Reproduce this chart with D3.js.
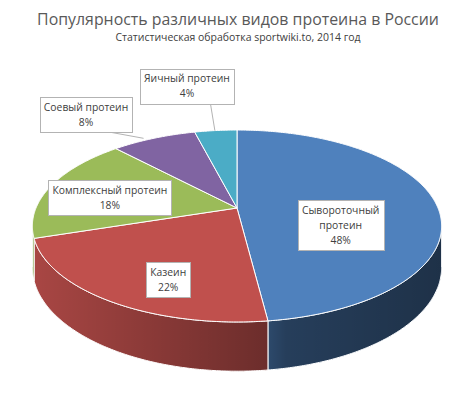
<!DOCTYPE html>
<html><head><meta charset="utf-8">
<script src="https://cdn.jsdelivr.net/npm/d3@7"></script>
<style>html,body{margin:0;padding:0;background:#fff;} svg{display:block}</style>
</head><body>
<svg id="chart" width="474" height="395"></svg>
<script>
// ---------- data ----------
const titleText = "Популярность различных видов протеина в России";
const subtitleText = "Статистическая обработка sportwiki.to, 2014 год";
const categories = ["Сывороточный протеин", "Казеин", "Комплексный протеин", "Соевый протеин", "Яичный протеин"];
const values = [48, 22, 18, 8, 4];

// ---------- styles / layout ----------
const colors = ["#4f81bd", "#c0504d", "#9bbb59", "#8064a2", "#4bacc6"];
const FONT = "'Open Sans', 'Noto Sans', 'DejaVu Sans', sans-serif";
const geo = {cx: 237, cy: 208, rx: 201, ry: 92.6, k: 0.1875, depth: 40};
// label placement: radius in disk units, angle offset (deg) from slice middle
const labelLayout = [
  {r: 0.52, dAng: 0, mid: true, wrap: true},
  {r: 0.58, dAng: 0, mid: true, wrap: false},
  {r: 0.656, dAng: -4.4, mid: false, wrap: false},
  {r: 1.552, dAng: -7.85, mid: false, wrap: false, leader: {dAng: -2.9, r: 1.03}},
  {r: 1.78, dAng: -3.5, mid: false, wrap: false, leader: {dAng: -0.3, r: 1.0}}
];

const svg = d3.select("#chart");
const W = 474, H = 395;
svg.append("rect").attr("width", W).attr("height", H).attr("fill", "#fff");

function fitSize(text, base, target) {
  const t = svg.append("text").attr("font-family", FONT).attr("font-size", base).text(text);
  const w = t.node().getComputedTextLength(); t.remove();
  return base * target / w;
}

// ---------- projection ----------
const xS = d3.scaleLinear().domain([-1, 1]).range([geo.cx - geo.rx, geo.cx + geo.rx]);
const yS = d3.scaleLinear().domain([-1, 1]).range([geo.cy - geo.ry, geo.cy + geo.ry]);
function proj(theta, r, t) {
  const u = r * Math.sin(theta), v = -r * Math.cos(theta);
  const w = 1 - geo.k * v;
  return [xS(u / w), yS((v + t * geo.depth / geo.ry) / w)];
}
function arcPts(a0, a1, r, t) {
  const n = Math.max(2, Math.ceil(Math.abs(a1 - a0) / 0.01));
  return d3.range(n + 1).map(i => proj(a0 + (a1 - a0) * i / n, r, t));
}
const line = d3.line();

const pie = d3.pie().sort(null).value(d => d);
const arcs = pie(values);

// ---------- defs ----------
const defs = svg.append("defs");
const grad = defs.append("linearGradient").attr("id", "shade")
  .attr("gradientUnits", "userSpaceOnUse")
  .attr("x1", geo.cx - geo.rx * 1.02).attr("x2", geo.cx + geo.rx * 1.02).attr("y1", 0).attr("y2", 0);
grad.append("stop").attr("offset", 0).attr("stop-color", "#000").attr("stop-opacity", 0.12);
grad.append("stop").attr("offset", 0.58).attr("stop-color", "#000").attr("stop-opacity", 0.44);
grad.append("stop").attr("offset", 0.62).attr("stop-color", "#000").attr("stop-opacity", 0.52);
grad.append("stop").attr("offset", 1).attr("stop-color", "#000").attr("stop-opacity", 0.62);

// ---------- sides ----------
const thR = Math.acos(-geo.k), thL = 2 * Math.PI - thR;
const gSide = svg.append("g");
arcs.forEach((a, i) => {
  const s = Math.max(a.startAngle, thR), e = Math.min(a.endAngle, thL);
  if (s >= e) return;
  const pts = arcPts(s, e, 1, 0).concat(arcPts(e, s, 1, 1));
  const d = line(pts) + "Z";
  gSide.append("path").attr("d", d).attr("fill", colors[i]);
  gSide.append("path").attr("d", d).attr("fill", "url(#shade)")
    .attr("stroke", "#fff").attr("stroke-width", 1);
});

// ---------- top faces ----------
const gTop = svg.append("g");
arcs.forEach((a, i) => {
  const pts = [proj(0, 0, 0)].concat(arcPts(a.startAngle, a.endAngle, 1, 0));
  gTop.append("path").attr("d", line(pts) + "Z")
    .attr("fill", colors[i]).attr("stroke", "#fff").attr("stroke-width", 1)
    .attr("stroke-linejoin", "round");
});

// ---------- titles ----------
const titleSize = fitSize(titleText, 16, 402);
svg.append("text").attr("x", 238).attr("y", 25).attr("text-anchor", "middle")
  .attr("font-family", FONT).attr("font-size", titleSize).attr("fill", "#595959").text(titleText);
const subSize = fitSize(subtitleText, 11, 245);
svg.append("text").attr("x", 238).attr("y", 41).attr("text-anchor", "middle")
  .attr("font-family", FONT).attr("font-size", subSize).attr("fill", "#404040").text(subtitleText);

// ---------- labels ----------
const labSize = fitSize(categories[2], 11, 115);
const lh = 15;
const gLab = svg.append("g");
arcs.forEach((a, i) => {
  const L = labelLayout[i];
  const mid = (a.startAngle + a.endAngle) / 2;
  const th = mid + L.dAng * Math.PI / 180;
  const [cx, cy] = proj(th, L.r, L.mid ? 0.5 : 0);
  const lines = (L.wrap ? categories[i].split(" ") : [categories[i]]).concat([values[i] + "%"]);
  const g = gLab.append("g");
  const rect = g.append("rect");
  let maxW = 0;
  lines.forEach((t, j) => {
    const tx = g.append("text").attr("x", cx)
      .attr("y", cy + (j - (lines.length - 1) / 2) * lh + labSize * 0.36)
      .attr("text-anchor", "middle").attr("font-family", FONT).attr("font-size", labSize)
      .attr("fill", "#404040").text(t);
    maxW = Math.max(maxW, tx.node().getComputedTextLength());
  });
  const bw = maxW + 8, bh = lines.length * lh + 5;
  const x0 = cx - bw / 2, y0 = cy - bh / 2;
  rect.attr("x", Math.round(x0) + 0.5).attr("y", Math.round(y0) + 0.5)
    .attr("width", Math.round(bw)).attr("height", Math.round(bh))
    .attr("fill", "#fff").attr("stroke", "#b3b3b3").attr("stroke-width", 1);
  if (L.leader) {
    const [tx, ty] = proj(mid + L.leader.dAng * Math.PI / 180, L.leader.r, 0);
    const ax = Math.max(x0 + bw * 0.25, Math.min(x0 + bw * 0.75, tx));
    const ay = y0 + bh;
    gLab.insert("line", ":first-child").attr("x1", ax).attr("y1", ay).attr("x2", tx).attr("y2", ty)
      .attr("stroke", "#b3b3b3").attr("stroke-width", 1);
  }
});
</script>
</body></html>
